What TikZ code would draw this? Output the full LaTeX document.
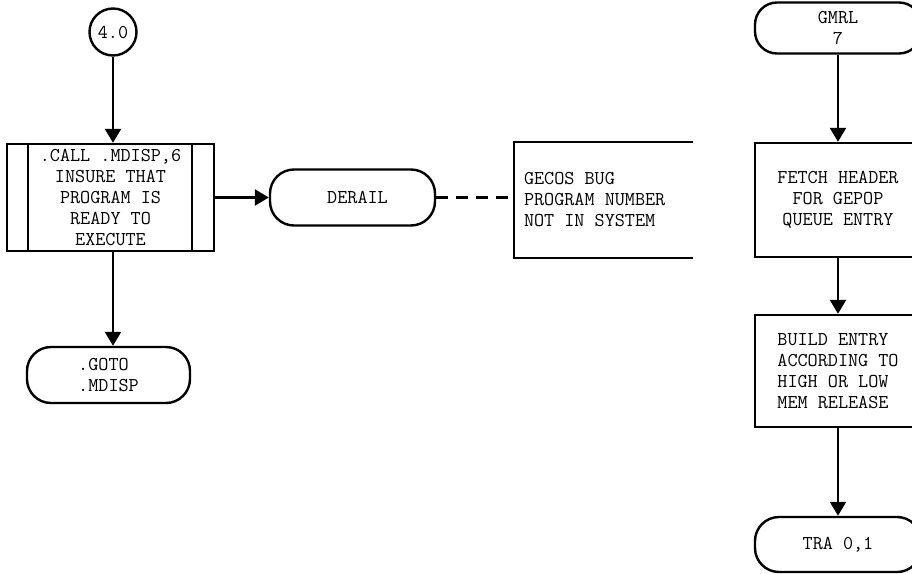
\documentclass[tikz,border=0pt]{standalone}
\usetikzlibrary{arrows.meta}

\begin{document}
\begin{tikzpicture}[x=1pt,y=-1pt,line width=2.4pt,
  every node/.style={font=\ttfamily\fontsize{19.6}{21}\selectfont},
  flow/.style={-{Triangle[length=14pt,width=16pt]}},
  procbox/.style={draw,minimum width=166pt,inner sep=0pt}]

\clip (0,0) rectangle (912,573);

% Connecteur 4.0
\node[draw,circle,minimum size=47pt,inner sep=0pt] (conn) at (113,32) {4.0};

% Appel .MDISP
\node[draw,minimum width=207pt,minimum height=107pt,inner sep=0pt,align=center]
  (call) at (110.5,197.5)
  {.CALL .MDISP,6\\INSURE THAT\\PROGRAM IS\\READY TO\\EXECUTE};
\draw ([xshift=22pt]call.north west) -- ([xshift=22pt]call.south west);
\draw ([xshift=-23pt]call.north east) -- ([xshift=-23pt]call.south east);

\draw[flow] (conn) -- (conn |- call.north);

% Sortie .GOTO
\node[draw,rounded corners=24pt,minimum width=163pt,minimum height=56pt,align=left]
  (goto) at (108.5,375) {.GOTO\\.MDISP};

\draw[flow] (conn |- call.south) -- (conn |- goto.north);

% Derail
\node[draw,rounded corners=24pt,minimum width=165pt,minimum height=56pt]
  (derail) at (352.5,197.5) {\hspace{10pt}DERAIL};

\draw[flow] (call.east) -- (call.east -| derail.west);

% Commentaire
\node[minimum width=177pt,minimum height=114pt,inner sep=0pt] (note) at (603.5,200) {};
\draw (note.north east) -- (note.north west) -- (note.south west) -- (note.south east);
\node[anchor=west,inner sep=0pt,align=left] (notetext) at ([xshift=9pt]note.west)
  {GECOS BUG\\PROGRAM NUMBER\\NOT IN SYSTEM};

\draw[dash pattern=on 12pt off 8pt] (derail.east) -- (derail.east -| note.west);

% GMRL
\node[draw,rounded corners=22pt,minimum width=166pt,minimum height=51pt,align=center]
  (gmrl) at (838,28) {GMRL\\7};

\node[procbox,minimum height=114pt,align=center]
  (fetch) at (838,200) {FETCH HEADER\\FOR GEPOP\\QUEUE ENTRY};

\node[procbox,minimum height=112pt,align=left]
  (build) at (838,371) {BUILD ENTRY\\ACCORDING TO\\HIGH OR LOW\\MEM RELEASE};

\node[draw,rounded corners=24pt,minimum width=166pt,minimum height=55pt]
  (tra) at (838,544.5) {TRA 0,1\hspace{18pt}};

\draw[flow] (gmrl) -- (fetch);
\draw[flow] (fetch) -- (build);
\draw[flow] (build) -- (tra);

\end{tikzpicture}
\end{document}
